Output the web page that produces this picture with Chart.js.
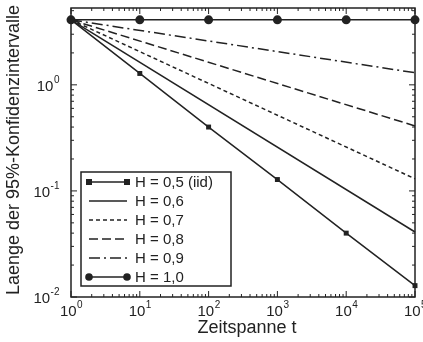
<!DOCTYPE html>
<html>
<head>
<meta charset="utf-8">
<script src="https://cdn.jsdelivr.net/npm/chart.js@4.4.0/dist/chart.umd.min.js"></script>
<style>
  html, body { margin: 0; padding: 0; background: #fff; }
  #wrap { width: 423px; height: 342px; }
</style>
</head>
<body>
<div id="wrap"><canvas id="chart" width="423" height="342"></canvas></div>
<script>
// Daten
const tDecades = [1, 10, 100, 1000, 10000, 100000];
const tEnds = [1, 100000];
const seriesLabels = ['H = 0,5 (iid)', 'H = 0,6', 'H = 0,7', 'H = 0,8', 'H = 0,9', 'H = 1,0'];
const valsH05 = [4.1, 1.28, 0.40, 0.128, 0.040, 0.0128];
const valsH06 = [4.1, 0.041];
const valsH07 = [4.1, 0.13];
const valsH08 = [4.1, 0.41];
const valsH09 = [4.1, 1.3];
const valsH10 = [4.1, 4.1, 4.1, 4.1, 4.1, 4.1];
const xTickExps = [0, 1, 2, 3, 4, 5];
const yTickExps = [-2, -1, 0];

const ink = '#222';
const dashes = [[], [], [4, 3], [9, 4], [11, 4, 2, 4], []];
const markers = [{ style: 'rect', r: 3.5 }, null, null, null, null, { style: 'circle', r: 4.5 }];

function pts(xs, ys) {
    return xs.map((x, i) => ({ x: x, y: ys[i] }));
}

const allData = [
    pts(tDecades, valsH05),
    pts(tEnds, valsH06),
    pts(tEnds, valsH07),
    pts(tEnds, valsH08),
    pts(tEnds, valsH09),
    pts(tDecades, valsH10)
];

const datasets = allData.map((d, i) => ({
    label: seriesLabels[i],
    data: d,
    borderColor: ink,
    backgroundColor: ink,
    borderWidth: 1.5,
    borderDash: dashes[i],
    pointStyle: markers[i] ? markers[i].style : false,
    pointRadius: markers[i] ? markers[i].r : 0,
    pointBorderWidth: 0,
    clip: false,
    tension: 0
}));

const FONT = '"Liberation Sans", Arial, Helvetica, sans-serif';

// Zehnerpotenz als Text mit hochgestelltem Exponent
function drawPow(ctx, x, y, exp, align) {
    const base = '10';
    const e = String(exp);
    ctx.font = '15px ' + FONT;
    const wb = ctx.measureText(base).width;
    ctx.font = '10px ' + FONT;
    const we = ctx.measureText(e).width;
    let x0;
    if (align === 'right') x0 = x - wb - we;
    else x0 = x - (wb + we) / 2;
    ctx.textBaseline = 'middle';
    ctx.textAlign = 'left';
    ctx.font = '15px ' + FONT;
    ctx.fillText(base, x0, y);
    ctx.font = '10px ' + FONT;
    ctx.fillText(e, x0 + wb + 0.5, y - 7);
}

const framePlugin = {
    id: 'frame',
    afterDatasetsDraw(chart) {
        const ctx = chart.ctx;
        const a = chart.chartArea;
        const xs = chart.scales.x;
        const ys = chart.scales.y;
        ctx.save();
        ctx.strokeStyle = ink;
        ctx.fillStyle = ink;
        ctx.lineWidth = 1.5;
        ctx.setLineDash([]);
        ctx.strokeRect(a.left, a.top, a.right - a.left, a.bottom - a.top);

        // Ticks nach innen, alle vier Seiten
        ctx.lineWidth = 1;
        ctx.beginPath();
        for (let p = 0; p <= 5; p++) {
            for (let m = 1; m <= 9; m++) {
                const v = m * Math.pow(10, p);
                if (v > 100000) break;
                const px = xs.getPixelForValue(v);
                const len = m === 1 ? 6 : 3;
                ctx.moveTo(px, a.bottom); ctx.lineTo(px, a.bottom - len);
                ctx.moveTo(px, a.top); ctx.lineTo(px, a.top + len);
            }
        }
        for (let p = -2; p <= 0; p++) {
            for (let m = 1; m <= 9; m++) {
                const v = m * Math.pow(10, p);
                if (v > ys.max) break;
                const py = ys.getPixelForValue(v);
                const len = m === 1 ? 6 : 3;
                ctx.moveTo(a.left, py); ctx.lineTo(a.left + len, py);
                ctx.moveTo(a.right, py); ctx.lineTo(a.right - len, py);
            }
        }
        ctx.stroke();

        // Beschriftung der Achsen
        xTickExps.forEach(e => drawPow(ctx, xs.getPixelForValue(Math.pow(10, e)), a.bottom + 15, e, 'center'));
        yTickExps.forEach(e => drawPow(ctx, a.left - 12, ys.getPixelForValue(Math.pow(10, e)) + 2, e, 'right'));

        ctx.font = '18px ' + FONT;
        ctx.textAlign = 'center';
        ctx.textBaseline = 'middle';
        ctx.fillText('Zeitspanne t', 247, 328);
        ctx.save();
        ctx.translate(14, 150);
        ctx.rotate(-Math.PI / 2);
        ctx.fillText('Laenge der 95%-Konfidenzintervalle', 0, 0);
        ctx.restore();

        // Legende
        const lx = 81, ly = 172, lw = 150, lh = 114;
        ctx.fillStyle = '#fff';
        ctx.fillRect(lx, ly, lw, lh);
        ctx.fillStyle = ink;
        ctx.lineWidth = 1.5;
        ctx.strokeRect(lx, ly, lw, lh);
        seriesLabels.forEach((lab, i) => {
            const y = ly + 10 + i * 19;
            ctx.lineWidth = 1.5;
            ctx.setLineDash(dashes[i]);
            ctx.beginPath();
            ctx.moveTo(89, y); ctx.lineTo(127, y);
            ctx.stroke();
            ctx.setLineDash([]);
            const mk = markers[i];
            if (mk) {
                [89, 127].forEach(mx => {
                    if (mk.style === 'rect') {
                        ctx.fillRect(mx - 3, y - 3, 6, 6);
                    } else {
                        ctx.beginPath();
                        ctx.arc(mx, y, 3.8, 0, Math.PI * 2);
                        ctx.fill();
                    }
                });
            }
            ctx.font = '15px ' + FONT;
            ctx.textAlign = 'left';
            ctx.textBaseline = 'middle';
            ctx.fillText(lab, 135, y + 1);
        });
        ctx.restore();
    }
};

new Chart(document.getElementById('chart'), {
    type: 'line',
    data: { datasets: datasets },
    options: {
        responsive: false,
        animation: false,
        layout: { padding: { top: 8, right: 8, left: 0, bottom: 0 } },
        plugins: { legend: { display: false }, tooltip: { enabled: false } },
        scales: {
            x: {
                type: 'logarithmic',
                min: 1,
                max: 100000,
                grid: { display: false },
                border: { display: false },
                ticks: { display: false },
                afterFit: s => { s.height = 45; }
            },
            y: {
                type: 'logarithmic',
                min: 0.01,
                max: 5.3,
                grid: { display: false },
                border: { display: false },
                ticks: { display: false },
                afterFit: s => { s.width = 71; }
            }
        }
    },
    plugins: [framePlugin]
});
</script>
</body>
</html>
